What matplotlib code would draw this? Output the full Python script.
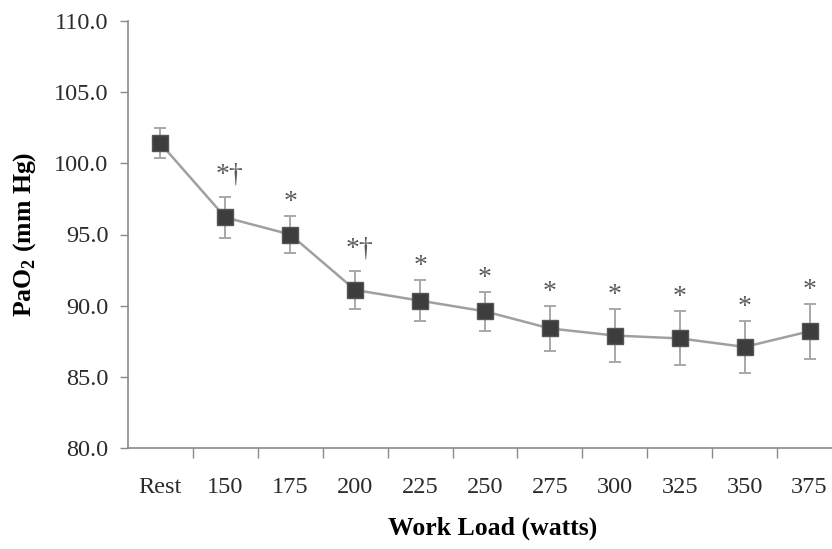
import matplotlib as mpl
mpl.use('Agg')
import matplotlib.pyplot as plt

mpl.rcParams.update({
    'font.family': 'serif', 'font.serif': ['Liberation Serif', 'DejaVu Serif'],
    'mathtext.fontset': 'custom', 'mathtext.rm': 'Liberation Serif',
    'mathtext.bf': 'Liberation Serif:bold',
    'text.color': '#2b2b2b', 'xtick.color': '#8a8a8a', 'ytick.color': '#8a8a8a',
    'xtick.labelcolor': '#2b2b2b', 'ytick.labelcolor': '#2b2b2b',
})

# PaO2 by work load (mean +/- error)
loads = ['Rest', '150', '175', '200', '225', '250', '275', '300', '325', '350', '375']
pao2 = [101.4, 96.2, 95.0, 91.1, 90.35, 89.6, 88.4, 87.9, 87.7, 87.1, 88.2]
err = [1.05, 1.45, 1.3, 1.35, 1.45, 1.35, 1.6, 1.85, 1.9, 1.85, 1.95]
marks = ['', '*\u2020', '*', '*\u2020', '*', '*', '*', '*', '*', '*', '*']

fig = plt.figure(figsize=(8.32, 5.49), dpi=100)
ax = fig.add_axes([128/832, 1-448/549, 714/832, 427/549])
x = list(range(len(loads)))

ax.errorbar(x, pao2, yerr=err, fmt='none', ecolor='#a8a8a8', elinewidth=1.4,
            capsize=4.5, capthick=1.4, zorder=2)
ax.plot(x, pao2, '-', color='#a0a0a0', lw=1.8, zorder=3)
ax.plot(x, pao2, 's', ms=11, mfc='#3d3d3d', mec='#555555', mew=1.0, zorder=4)

for xi, y, e, m in zip(x, pao2, err, marks):
    if not m:
        continue
    dy = 11 if '\u2020' in m else 5
    ax.annotate(m, (xi, y + e), textcoords='offset points', xytext=(3 if len(m) > 1 else 0, dy),
                ha='center', va='baseline', fontsize=20, color='#5a5a5a')

ax.set_xlim(-0.5, 10.5)
ax.set_ylim(80, 110)
ax.set_yticks([80, 85, 90, 95, 100, 105, 110])
ax.set_yticklabels([f'{v:.1f}' for v in [80, 85, 90, 95, 100, 105, 110]])
ax.set_xticks([i + 0.5 for i in range(10)])
ax.set_xticklabels([])
ax.set_xticks(x, minor=True)
ax.set_xticklabels(loads, minor=True)
ax.tick_params(axis='x', which='major', length=7, width=1.0, direction='out')
ax.tick_params(axis='x', which='minor', length=0, pad=21, labelsize=17.5)
ax.tick_params(axis='y', length=6, width=1.0, direction='out', pad=8, labelsize=17.5)

for s in ['top', 'right']:
    ax.spines[s].set_visible(False)
for s in ['left', 'bottom']:
    ax.spines[s].set_color('#8a8a8a')
    ax.spines[s].set_linewidth(1.2)

ax.set_xlabel('Work Load (watts)', fontsize=18.5, fontweight='bold')
ax.xaxis.set_label_coords((493-128)/714, (448-517)/427)
ax.set_ylabel(r'PaO$_{\mathbf{2}}$ (mm Hg)', fontsize=18.5, fontweight='bold')
ax.yaxis.set_label_coords((38-128)/714, 0.5)

fig.savefig('out.png', dpi=100)
